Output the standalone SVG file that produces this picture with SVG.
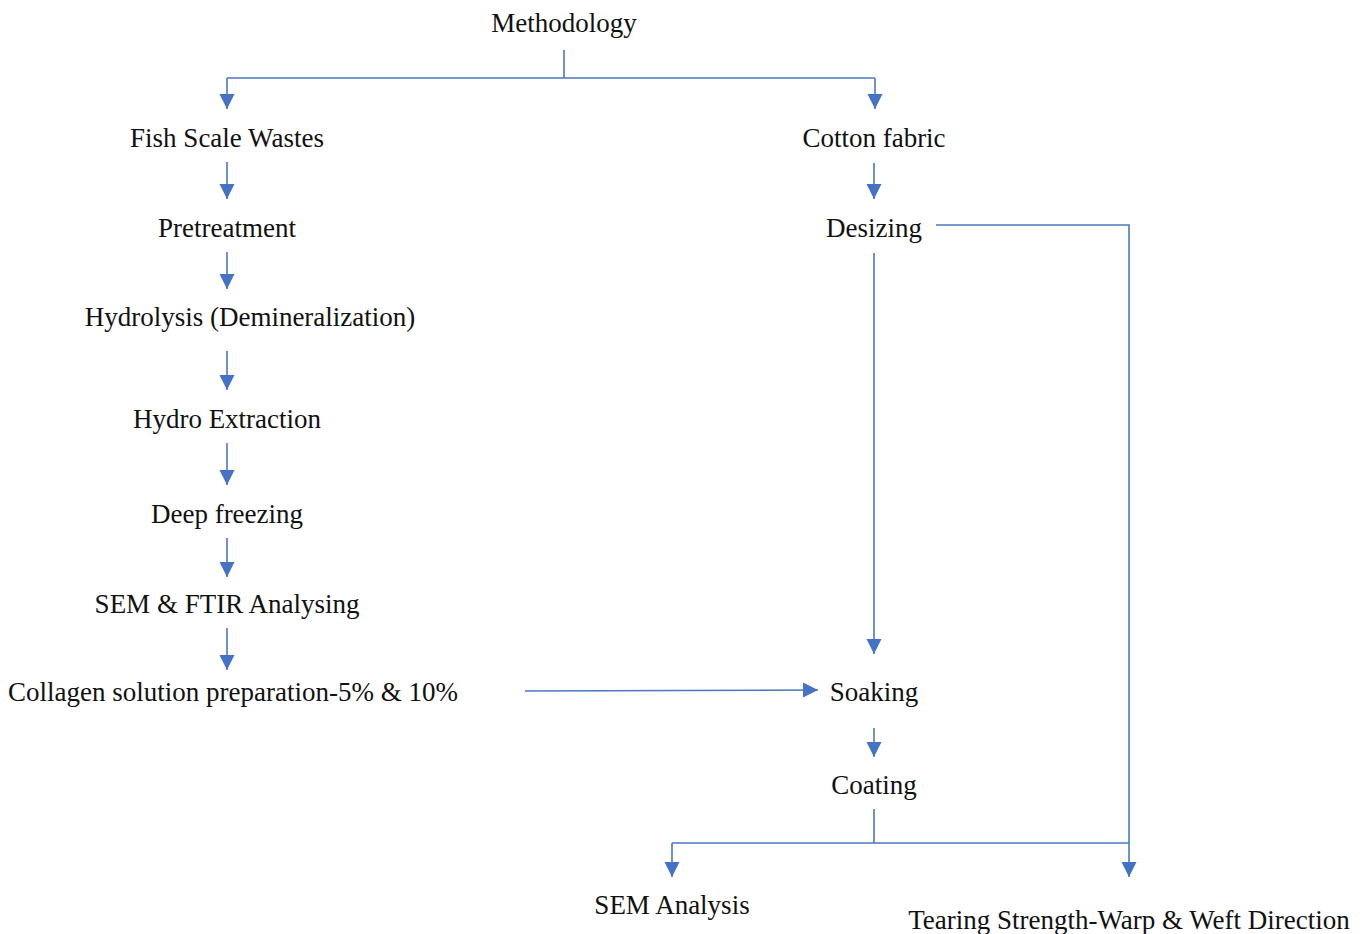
<svg xmlns="http://www.w3.org/2000/svg" width="1368" height="934" viewBox="0 0 1368 934">
<style>
text{font-family:"Liberation Serif","Times New Roman",serif;font-size:27px;fill:#111;text-anchor:middle}
.c{fill:none;stroke:#4a78c0;stroke-width:1.6}
</style>
<defs>
<marker id="ah" markerUnits="userSpaceOnUse" markerWidth="16" markerHeight="16" viewBox="0 0 16 16" refX="15" refY="8" orient="auto">
<path d="M0,0.5 L15,8 L0,15.5 Z" fill="#4472c4"/>
</marker>
</defs>
<rect width="1368" height="934" fill="#fff"/>
<g id="connectors">
<path class="c" d="M564,50 V78 M227,78 H875"/>
<path class="c" d="M227,78 V109" marker-end="url(#ah)"/>
<path class="c" d="M875,78 V109" marker-end="url(#ah)"/>
<path class="c" d="M227,162 V199" marker-end="url(#ah)"/>
<path class="c" d="M227,252 V289" marker-end="url(#ah)"/>
<path class="c" d="M227,351 V390" marker-end="url(#ah)"/>
<path class="c" d="M227,443 V485" marker-end="url(#ah)"/>
<path class="c" d="M227,538 V577" marker-end="url(#ah)"/>
<path class="c" d="M227,628 V670" marker-end="url(#ah)"/>
<path class="c" d="M525,691 L818,690" marker-end="url(#ah)"/>
<path class="c" d="M874,163 V199" marker-end="url(#ah)"/>
<path class="c" d="M874,253 V654" marker-end="url(#ah)"/>
<path class="c" d="M874,728 V757" marker-end="url(#ah)"/>
<path class="c" d="M936,225 H1129 V877" marker-end="url(#ah)"/>
<path class="c" d="M874,809 V843 M672,843 H1129"/>
<path class="c" d="M672,843 V877" marker-end="url(#ah)"/>
</g>
<g id="n-methodology"><text x="564" y="32">Methodology</text></g>
<g id="n-fish"><text x="227" y="147">Fish Scale Wastes</text></g>
<g id="n-pretreatment"><text x="227" y="237">Pretreatment</text></g>
<g id="n-hydrolysis"><text x="250" y="326">Hydrolysis (Demineralization)</text></g>
<g id="n-hydroext"><text x="227" y="428">Hydro Extraction</text></g>
<g id="n-freezing"><text x="227" y="523">Deep freezing</text></g>
<g id="n-semftir"><text x="227" y="613">SEM &amp; FTIR Analysing</text></g>
<g id="n-collagen"><text x="233" y="701">Collagen solution preparation-5% &amp; 10%</text></g>
<g id="n-cotton"><text x="874" y="147">Cotton fabric</text></g>
<g id="n-desizing"><text x="874" y="237">Desizing</text></g>
<g id="n-soaking"><text x="874" y="701">Soaking</text></g>
<g id="n-coating"><text x="874" y="794">Coating</text></g>
<g id="n-sem"><text x="672" y="914">SEM Analysis</text></g>
<g id="n-tearing"><text x="1129" y="929">Tearing Strength-Warp &amp; Weft Direction</text></g>
</svg>
